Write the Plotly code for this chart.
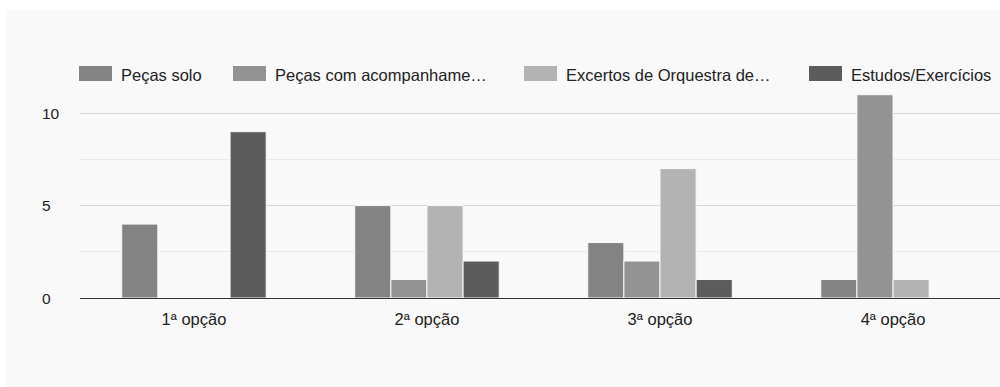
import plotly.graph_objects as go

# Categories and series
categories = ["1ª opção", "2ª opção", "3ª opção", "4ª opção"]
series_names = [
    "Peças solo",
    "Peças com acompanhame…",
    "Excertos de Orquestra de…",
    "Estudos/Exercícios",
]
pecas_solo = [4, 5, 3, 1]
pecas_acomp = [0, 1, 2, 11]
excertos = [0, 5, 7, 1]
estudos = [9, 2, 1, 0]
series_colors = ["#838383", "#939393", "#b3b3b3", "#5c5c5c"]

y_ticks = [0, 5, 10]

W, H = 1000, 387
ML, MR, MT, MB = 80, 0, 67, 89
PW, PH = W - ML - MR, H - MT - MB
TEXT = "#222222"


def px_x(px):
    return (px - ML) / PW


def px_y(py):
    return (H - MB - py) / PH


fig = go.Figure()
for name, vals, col in zip(series_names, [pecas_solo, pecas_acomp, excertos, estudos], series_colors):
    fig.add_trace(go.Bar(
        x=categories, y=vals, name=name,
        marker=dict(color=col, line=dict(color="#f9f9f9", width=1)),
        showlegend=False,
    ))

shapes = [
    # panel background
    dict(type="rect", xref="paper", yref="paper", layer="below",
         x0=px_x(6), x1=px_x(1005), y0=px_y(392), y1=px_y(10),
         fillcolor="#f9f9f9", line=dict(width=0)),
]
annotations = []

# legend row
swatch_x = [79, 233, 524, 809]
for name, col, sx in zip(series_names, series_colors, swatch_x):
    shapes.append(dict(type="rect", xref="paper", yref="paper",
                       x0=px_x(sx), x1=px_x(sx + 33), y0=px_y(81), y1=px_y(66),
                       fillcolor=col, line=dict(width=0)))
    annotations.append(dict(xref="paper", yref="paper", x=px_x(sx + 40), y=px_y(75),
                            text=name, showarrow=False, xanchor="left", yanchor="middle",
                            font=dict(size=16.5, color=TEXT)))

# y tick labels, left aligned
for t in y_ticks:
    annotations.append(dict(xref="paper", yref="y", x=0, y=t, xshift=-40,
                            text=str(t), showarrow=False, xanchor="left", yanchor="middle",
                            font=dict(size=15.5, color=TEXT)))

fig.update_layout(
    width=W, height=H,
    margin=dict(l=ML, r=MR, t=MT, b=MB, pad=0),
    paper_bgcolor="white",
    plot_bgcolor="rgba(0,0,0,0)",
    font=dict(family="Liberation Sans, Arial, sans-serif", size=16.5, color=TEXT),
    barmode="group",
    bargap=0.38,
    bargroupgap=0,
    shapes=shapes,
    annotations=annotations,
    xaxis=dict(
        range=[-0.489, 3.459],
        showgrid=False, showline=True, linecolor="#333333", linewidth=1,
        ticks="", tickfont=dict(size=16.5, color=TEXT), ticklabelstandoff=6,
    ),
    yaxis=dict(
        range=[0, 12.5], tick0=0, dtick=5,
        showticklabels=False, ticks="",
        showgrid=True, gridcolor="#d6d6d6", gridwidth=1,
        zeroline=False,
        minor=dict(dtick=2.5, tick0=0, showgrid=True, gridcolor="#ebebeb", gridwidth=1),
    ),
)

fig.write_html("out.html")
